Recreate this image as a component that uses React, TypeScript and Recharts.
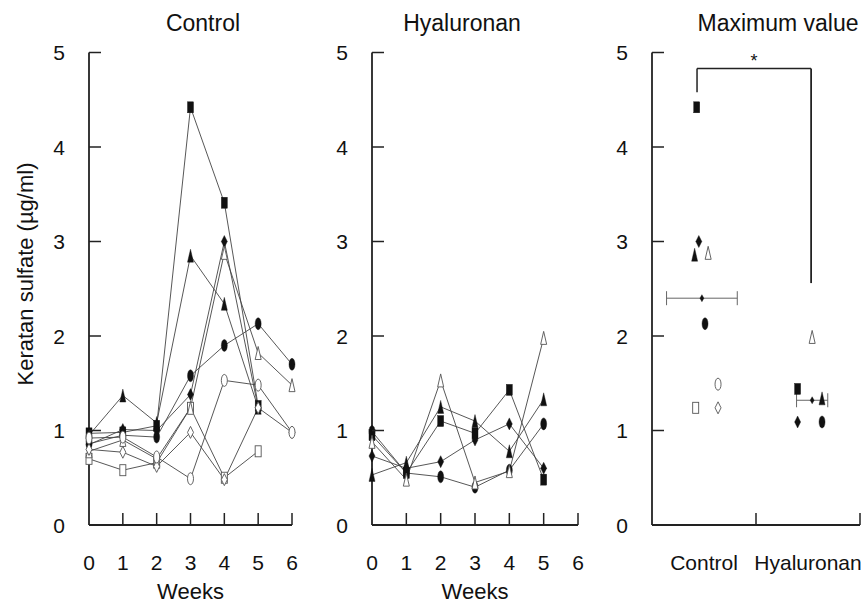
import React from "react";
import {
  ComposedChart,
  Line,
  Scatter,
  XAxis,
  YAxis,
  ErrorBar,
  ReferenceLine,
  Label,
} from "recharts";

// weeks after treatment
const ctrlWeeks = [0, 1, 2, 3, 4, 5, 6];
const hyaWeeks = [0, 1, 2, 3, 4, 5];

// Control group, keratan sulfate (ug/ml) per animal
const ctrlSquareFilled = [0.97, 0.98, 1.05, 4.42, 3.41, 1.26, null];
const ctrlTriangleFilled = [0.95, 1.37, 1.08, 2.85, 2.34, 1.24, null];
const ctrlDiamondFilled = [0.85, 1.01, 1.0, 1.38, 3.0, 1.24, null];
const ctrlCircleFilled = [0.86, 0.95, 0.93, 1.58, 1.9, 2.13, 1.7];
const ctrlSquareOpen = [0.7, 0.58, 0.66, 1.24, 0.5, 0.78, null];
const ctrlTriangleOpen = [0.78, 0.9, 0.7, 1.24, 2.88, 1.82, 1.48];
const ctrlDiamondOpen = [0.8, 0.77, 0.62, 0.98, 0.48, 1.24, 0.98];
const ctrlCircleOpen = [0.92, 0.93, 0.72, 0.49, 1.53, 1.48, 0.98];

// Hyaluronan group
const hyaSquareFilled = [0.95, 0.55, 1.1, 0.97, 1.43, 0.48];
const hyaTriangleFilled = [0.53, 0.66, 1.25, 1.1, 0.78, 1.33];
const hyaDiamondFilled = [0.73, 0.6, 0.67, 0.9, 1.07, 0.6];
const hyaCircleFilled = [0.99, 0.55, 0.51, 0.4, 0.58, 1.07];
const hyaTriangleOpen = [0.88, 0.48, 1.53, 0.45, 0.57, 1.98];

// maximum value per animal
const maxGroups = ["Control", "Hyaluronan"];
const maxCtrl = [4.42, 2.86, 3.0, 2.13, 1.24, 2.88, 1.24, 1.49];
const maxCtrlJitter = [0.43, 0.41, 0.45, 0.51, 0.42, 0.54, 0.635, 0.635];
const maxHya = [1.44, 1.34, 1.09, 1.09, 1.99];
const maxHyaJitter = [1.4, 1.635, 1.4, 1.635, 1.54];
const meanValues = [2.4, 1.32];
const meanX = [0.48, 1.54];
const meanSpread = [
  [0.34, 0.34],
  [0.15, 0.15],
];
// significance bracket: left leg, top, right leg
const bracketX = [0.433, 1.53];
const bracketY = [4.58, 4.83, 2.56];

const FONT = "'Liberation Sans', Arial, sans-serif";
const AXIS = "#222";
const TEXT = "#111";

const Marker = ({ cx, cy, kind, filled, small }: any) => {
  if (cx == null || cy == null || isNaN(cy)) return null;
  const w = small ? 2 : 3;
  const h = small ? 3.5 : 6;
  const fill = filled ? "#111" : "#fff";
  const stroke = filled ? "#111" : "#555";
  const sw = filled ? 0.4 : 0.9;
  if (kind === "square")
    return <rect x={cx - w} y={cy - h + 0.5} width={2 * w} height={2 * h - 1} fill={fill} stroke={stroke} strokeWidth={sw} />;
  if (kind === "triangle")
    return (
      <polygon
        points={`${cx},${cy - h - 0.5} ${cx + w},${cy + h + 0.5} ${cx - w},${cy + h + 0.5}`}
        fill={fill}
        stroke={stroke}
        strokeWidth={sw}
      />
    );
  if (kind === "diamond")
    return (
      <polygon
        points={`${cx},${cy - h} ${cx + w},${cy} ${cx},${cy + h} ${cx - w},${cy}`}
        fill={fill}
        stroke={stroke}
        strokeWidth={sw}
      />
    );
  return <ellipse cx={cx} cy={cy} rx={w} ry={h} fill={fill} stroke={stroke} strokeWidth={sw} />;
};

const ctrlSeries = [
  { key: "sqF", kind: "square", filled: true, values: ctrlSquareFilled },
  { key: "triF", kind: "triangle", filled: true, values: ctrlTriangleFilled },
  { key: "diaF", kind: "diamond", filled: true, values: ctrlDiamondFilled },
  { key: "cirF", kind: "circle", filled: true, values: ctrlCircleFilled },
  { key: "sqO", kind: "square", filled: false, values: ctrlSquareOpen },
  { key: "triO", kind: "triangle", filled: false, values: ctrlTriangleOpen },
  { key: "diaO", kind: "diamond", filled: false, values: ctrlDiamondOpen },
  { key: "cirO", kind: "circle", filled: false, values: ctrlCircleOpen },
];

const hyaSeries = [
  { key: "sqF", kind: "square", filled: true, values: hyaSquareFilled },
  { key: "triF", kind: "triangle", filled: true, values: hyaTriangleFilled },
  { key: "diaF", kind: "diamond", filled: true, values: hyaDiamondFilled },
  { key: "cirF", kind: "circle", filled: true, values: hyaCircleFilled },
  { key: "triO", kind: "triangle", filled: false, values: hyaTriangleOpen },
];

const buildRows = (weeks: number[], series: any[]) =>
  weeks.map((w, i) => {
    const row: any = { week: w };
    series.forEach((s) => (row[s.key] = s.values[i]));
    return row;
  });

const ctrlRows = buildRows(ctrlWeeks, ctrlSeries);
const hyaRows = buildRows(hyaWeeks, hyaSeries);

const ctrlMaxKinds = ctrlSeries.map((s) => ({ kind: s.kind, filled: s.filled }));
const hyaMaxKinds = hyaSeries.map((s) => ({ kind: s.kind, filled: s.filled }));
const maxPoints = [
  ...maxCtrl.map((v, i) => ({ x: maxCtrlJitter[i], y: v, ...ctrlMaxKinds[i] })),
  ...maxHya.map((v, i) => ({ x: maxHyaJitter[i], y: v, ...hyaMaxKinds[i] })),
];
const meanPoints = meanValues.map((v, i) => ({ x: meanX[i], y: v, err: meanSpread[i] }));

const YTick = ({ x, y, payload }: any) => (
  <g>
    {payload.value !== 0 && <line x1={x} x2={x + 12} y1={y} y2={y} stroke={AXIS} strokeWidth={1.5} />}
    <text x={x - 24} y={y} textAnchor="end" dominantBaseline="central" fontSize={21} fill={TEXT} fontFamily={FONT}>
      {payload.value}
    </text>
  </g>
);

const WeekTick = ({ x, y, payload }: any) => (
  <g>
    {payload.value !== 0 && <line x1={x} x2={x} y1={y} y2={y - 12} stroke={AXIS} strokeWidth={1.5} />}
    <text x={x} y={y + 37} textAnchor="middle" dominantBaseline="central" fontSize={21} fill={TEXT} fontFamily={FONT}>
      {payload.value}
    </text>
  </g>
);

const GroupTick = ({ x, y, payload }: any) => {
  const v = payload.value;
  if (Number.isInteger(v))
    return v === 0 ? null : <line x1={x} x2={x} y1={y} y2={y - 12} stroke={AXIS} strokeWidth={1.5} />;
  return (
    <text x={x} y={y + 37} textAnchor="middle" dominantBaseline="central" fontSize={21} fill={TEXT} fontFamily={FONT}>
      {maxGroups[Math.floor(v)]}
    </text>
  );
};

const yAxisProps = {
  type: "number" as const,
  domain: [0, 5],
  ticks: [0, 1, 2, 3, 4, 5],
  interval: 0 as const,
  width: 1,
  tickSize: 0,
  tickMargin: 0,
  tickLine: false,
  tick: <YTick />,
  axisLine: { stroke: AXIS, strokeWidth: 1.8 },
};

const xAxisProps = {
  type: "number" as const,
  interval: 0 as const,
  height: 1,
  tickSize: 0,
  tickMargin: 0,
  tickLine: false,
  axisLine: { stroke: AXIS, strokeWidth: 1.8 },
};

const WeekPanel = ({ rows, series, left, width, margin, yLabel }: any) => (
  <div style={{ position: "absolute", left, top: 0 }}>
    <ComposedChart width={width} height={603} data={rows} margin={margin}>
      <XAxis {...xAxisProps} dataKey="week" domain={[0, 6]} ticks={[0, 1, 2, 3, 4, 5, 6]} tick={<WeekTick />}>
        <Label value="Weeks" position="bottom" offset={57} fontSize={22} fill={TEXT} fontFamily={FONT} />
      </XAxis>
      <YAxis {...yAxisProps}>
        {yLabel && (
          <Label
            content={() => (
              <text
                x={25}
                y={274}
                transform="rotate(-90, 25, 274)"
                textAnchor="middle"
                dominantBaseline="central"
                fontSize={22}
                fill={TEXT}
                fontFamily={FONT}
              >
                Keratan sulfate (µg/ml)
              </text>
            )}
          />
        )}
      </YAxis>
      {series.map((s: any) => (
        <Line
          key={s.key}
          dataKey={s.key}
          type="linear"
          stroke="#444"
          strokeWidth={0.9}
          isAnimationActive={false}
          dot={(p: any) => <Marker key={`${s.key}-${p.index}`} cx={p.cx} cy={p.cy} kind={s.kind} filled={s.filled} />}
          activeDot={false}
        />
      ))}
    </ComposedChart>
  </div>
);

const Title = ({ text, cx }: any) => (
  <div
    style={{
      position: "absolute",
      left: cx - 100,
      width: 200,
      top: 12,
      textAlign: "center",
      fontSize: 23,
      lineHeight: "23px",
      color: TEXT,
      fontFamily: FONT,
    }}
  >
    {text}
  </div>
);

export default function App() {
  return (
    <div style={{ position: "absolute", left: 0, top: 0, width: 865, height: 603, background: "#fff", overflow: "hidden" }}>
      <WeekPanel
        rows={ctrlRows}
        series={ctrlSeries}
        left={0}
        width={300}
        margin={{ top: 52.5, right: 8, bottom: 77, left: 88 }}
        yLabel
      />
      <WeekPanel
        rows={hyaRows}
        series={hyaSeries}
        left={300}
        width={300}
        margin={{ top: 52.5, right: 22, bottom: 77, left: 71 }}
      />
      <div style={{ position: "absolute", left: 600, top: 0 }}>
        <ComposedChart width={265} height={603} margin={{ top: 52.5, right: 5, bottom: 77, left: 51 }}>
          <XAxis {...xAxisProps} dataKey="x" domain={[0, 2]} ticks={[0.5, 1, 1.5, 2]} tick={<GroupTick />} />
          <YAxis {...yAxisProps} dataKey="y" />
          <ReferenceLine
            segment={[
              { x: bracketX[0], y: bracketY[0] },
              { x: bracketX[0], y: bracketY[1] },
            ]}
            stroke={AXIS}
            strokeWidth={1.5}
          />
          <ReferenceLine
            segment={[
              { x: bracketX[0], y: bracketY[1] },
              { x: bracketX[1], y: bracketY[1] },
            ]}
            stroke={AXIS}
            strokeWidth={1.5}
            label={{ value: "*", position: "top", offset: 2, fontSize: 18, fill: TEXT, fontFamily: FONT }}
          />
          <ReferenceLine
            segment={[
              { x: bracketX[1], y: bracketY[1] },
              { x: bracketX[1], y: bracketY[2] },
            ]}
            stroke={AXIS}
            strokeWidth={1.8}
          />
          <Scatter
            data={meanPoints}
            dataKey="y"
            isAnimationActive={false}
            shape={(p: any) => <Marker cx={p.cx} cy={p.cy} kind="diamond" filled small />}
          >
            <ErrorBar dataKey="err" direction="x" width={7} stroke="#666" strokeWidth={1} isAnimationActive={false} />
          </Scatter>
          <Scatter
            data={maxPoints}
            dataKey="y"
            isAnimationActive={false}
            shape={(p: any) => <Marker cx={p.cx} cy={p.cy} kind={p.payload.kind} filled={p.payload.filled} />}
          />
        </ComposedChart>
      </div>
      <Title text="Control" cx={203} />
      <Title text="Hyaluronan" cx={462} />
      <Title text="Maximum value" cx={778} />
    </div>
  );
}
